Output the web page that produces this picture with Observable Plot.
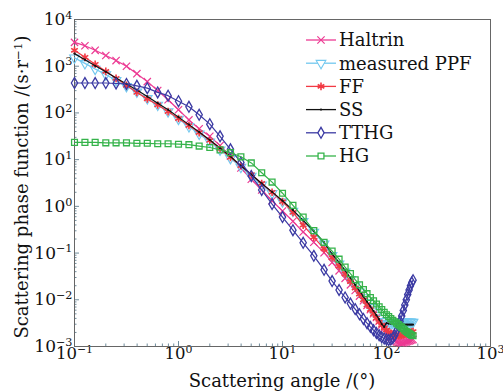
<!DOCTYPE html>
<html><head><meta charset="utf-8">
<script src="https://cdn.jsdelivr.net/npm/d3@7"></script>
<script src="https://cdn.jsdelivr.net/npm/@observablehq/plot@0.6"></script>
<style>
body{margin:0;background:#fff}
#chart{width:503px;height:391px}
</style>
</head><body><div id="chart"></div>
<script>
// Scattering angles (degrees)
const angles = [0.1,0.126,0.158,0.2,0.251,0.316,0.398,0.501,0.631,0.794,1,1.26,1.58,2,2.51,3.16,3.98,5.01,6.31,7.94,10,12.6,15.8,20,25.1,
  30,35,40,45,50,55,60,65,70,75,80,85,90,95,100,105,110,115,120,125,130,135,140,145,150,155,160,165,170,175,180];

// Phase function values (sr^-1)
const haltrin = [3240,2750,2190,1700,1320,1000,692,468,302,191,117,70.8,45.7,31.6,20.0,12.0,6.61,3.80,2.24,1.32,0.794,0.479,0.282,0.170,0.102,
  0.0631,0.0417,0.0288,0.0209,0.0158,0.0120,0.00955,0.00759,0.00617,0.00501,0.00417,0.00347,0.00288,0.00245,0.00209,0.00182,0.00158,0.00145,0.00132,0.00126,0.00123,0.00120,0.00120,0.00120,0.00123,0.00126,0.00129,0.00132,0.00135,0.00138,0.00141];
const measuredPPF = [1510,1150,871,661,501,372,282,204,148,107,74.1,51.3,35.5,24.0,16.2,10.7,6.92,4.47,2.88,1.91,1.26,0.794,0.479,0.282,0.158,
  0.0891,0.0589,0.0398,0.0275,0.0200,0.0148,0.0112,0.00871,0.00692,0.00562,0.00468,0.00398,0.00347,0.00316,0.00302,0.00302,0.00309,0.00316,0.00316,0.00324,0.00324,0.00331,0.00331,0.00331,0.00339,0.00339,0.00339,0.00339,0.00339,0.00331,0.00331];
const ff = [2190,1550,1100,776,550,389,275,200,148,107,75.9,53.7,38.0,25.7,17.0,11.2,7.41,4.79,3.09,2.00,1.26,0.741,0.398,0.219,0.123,
  0.0794,0.0525,0.0355,0.0245,0.0178,0.0132,0.0100,0.00776,0.00617,0.00501,0.00407,0.00339,0.00288,0.00251,0.00224,0.00204,0.00191,0.00182,0.00174,0.00170,0.00170,0.00170,0.00174,0.00178,0.00182,0.00186,0.00191,0.00195,0.00200,0.00204,0.00209];
const ss = [1860,1380,1020,759,562,417,309,224,162,117,81.3,56.2,38.9,26.3,17.8,11.7,7.41,4.79,3.09,2.04,1.32,0.832,0.501,0.295,0.170,
  0.0955,0.0631,0.0427,0.0295,0.0209,0.0155,0.0117,0.00912,0.00724,0.00575,0.00468,0.00380,0.00302,0.00263,0.00316,0.00309,0.00309,0.00309,0.00302,0.00302,0.00302,0.00302,0.00295,0.00295,0.00295,0.00295,0.00295,0.00295,0.00295,0.00295,0.00295];
const tthg = [437,437,437,437,427,417,380,339,275,234,178,135,91.2,57.5,31.6,16.6,8.71,4.47,2.24,1.12,0.589,0.309,0.166,0.0871,0.0437,
  0.0251,0.0162,0.0112,0.00832,0.00631,0.00490,0.00389,0.00316,0.00263,0.00224,0.00195,0.00174,0.00158,0.00148,0.00141,0.00138,0.00141,0.00151,0.00174,0.00214,0.00269,0.00347,0.00447,0.00589,0.00776,0.0100,0.0129,0.0162,0.0200,0.0234,0.0263];
const hg = [23.4,23.4,23.4,22.9,22.9,22.9,22.4,22.4,21.9,21.9,21.4,20.9,19.5,18.2,16.2,14.1,11.5,8.51,5.25,3.31,1.91,1.05,0.589,0.302,0.170,
  0.110,0.0741,0.0501,0.0363,0.0269,0.0209,0.0166,0.0135,0.0112,0.00955,0.00813,0.00708,0.00617,0.00537,0.00479,0.00437,0.00398,0.00363,0.00339,0.00316,0.00295,0.00275,0.00257,0.00240,0.00224,0.00209,0.00200,0.00191,0.00182,0.00174,0.00170];

const seriesNames = ["Haltrin","measured PPF","FF","SS","TTHG","HG"];
const seriesColors = ["#ec3a93","#72c8ef","#f23a44","#111111","#3b3aa3","#35b34a"];
const seriesSymbols = ["times","triangle","asterisk","circle","diamond","square"];

const xTickValues = [0.1,1,10,100,1000];
const xTickLabels = ["10^\u22121","10^0","10^1","10^2","10^3"];
const yTickValues = [0.001,0.01,0.1,1,10,100,1000,10000];
const yTickLabels = ["10^\u22123","10^\u22122","10^\u22121","10^0","10^1","10^2","10^3","10^4"];

const xTitle = "Scattering angle /(\u00b0)";
const yTitle = "Scattering phase function /(s\u00b7r";
const yTitleSup = "\u22121";

// ---------- build ----------
const seriesValues = [haltrin, measuredPPF, ff, ss, tthg, hg];
const markStyle = [
  {r: 3.4, strokeWidth: 1.2},
  {r: 3.6, strokeWidth: 1.1, rotate: 180},
  {r: 3.6, strokeWidth: 1.6},
  {r: 1.1, strokeWidth: 0},
  {r: 3.3, strokeWidth: 1.3},
  {r: 3.3, strokeWidth: 1.3}
];
const tables = seriesValues.map((vals, si) => vals.map((v, i) => ({angle: angles[i], value: v, series: seriesNames[si]})));

const decadesX = d3.range(-1, 3), decadesY = d3.range(-3, 4);
const xMinor = decadesX.flatMap(k => d3.range(2, 10).map(m => m * 10 ** k));
const yMinor = decadesY.flatMap(k => d3.range(2, 10).map(m => m * 10 ** k));

const marks = [
  Plot.axisX({ticks: xMinor, tickSize: -2.5, tickFormat: () => "", label: null, stroke: "#6f8c9c"}),
  Plot.axisX({ticks: xTickValues, tickSize: -5, tickFormat: () => "", label: null, stroke: "#6f8c9c"}),
  Plot.axisY({ticks: yMinor, tickSize: -2.5, tickFormat: () => "", label: null, stroke: "#6f8c9c"}),
  Plot.axisY({ticks: yTickValues, tickSize: -5, tickFormat: () => "", label: null, stroke: "#6f8c9c"}),
  Plot.axisX({ticks: xTickValues, tickSize: 0, tickPadding: 1, label: null, fontSize: 16.5,
    tickFormat: d => xTickLabels[xTickValues.indexOf(d)]}),
  Plot.axisY({ticks: yTickValues, tickSize: 0, tickPadding: 2, label: null, fontSize: 17,
    tickFormat: d => yTickLabels[yTickValues.indexOf(d)]}),
  Plot.frame({stroke: "#666"})
];
tables.forEach((t, si) => {
  marks.push(Plot.line(t, {x: "angle", y: "value", stroke: seriesColors[si], strokeWidth: 1.2}));
  const st = markStyle[si];
  const opts = {x: "angle", y: "value", symbol: seriesSymbols[si], r: st.r};
  if (si === 3) { opts.fill = seriesColors[si]; opts.stroke = "none"; }
  else { opts.fill = "none"; opts.stroke = seriesColors[si]; opts.strokeWidth = st.strokeWidth; }
  if (st.rotate) opts.rotate = st.rotate;
  marks.push(Plot.dot(t, opts));
});

const plot = Plot.plot({
  width: 503, height: 391,
  marginLeft: 74, marginRight: 13, marginTop: 19, marginBottom: 45,
  style: {fontFamily: "'DejaVu Serif', serif", color: "#111", background: "white", overflow: "visible"},
  x: {type: "log", domain: [0.1, 1000]},
  y: {type: "log", domain: [0.001, 10000]},
  marks
});

const svg = d3.select(plot);
// rich superscripts in tick labels
svg.selectAll("text").each(function () {
  const t = this.textContent;
  const m = t.match(/^10\^(.+)$/);
  if (m) {
    const s = d3.select(this);
    s.text(null);
    s.append("tspan").text("10");
    s.append("tspan").attr("dy", "-0.55em").attr("font-size", "0.66em").text(m[1]);
  }
});

const g = svg.append("g").attr("font-family", "'DejaVu Serif', serif").attr("fill", "#111");
// axis titles
g.append("text").attr("x", 282).attr("y", 387).attr("text-anchor", "middle").attr("font-size", 18).text(xTitle);
const yt = g.append("text").attr("transform", "translate(28,187) rotate(-90)").attr("text-anchor", "middle").attr("font-size", 18);
yt.append("tspan").text(yTitle);
yt.append("tspan").attr("dy", "-0.5em").attr("font-size", "0.66em").text(yTitleSup);
yt.append("tspan").attr("dy", "0.33em").text(")");

// legend
const symMap = {times: d3.symbolTimes, triangle: d3.symbolTriangle, asterisk: d3.symbolAsterisk, circle: d3.symbolCircle, diamond: d3.symbolDiamond, square: d3.symbolSquare};
seriesNames.forEach((name, i) => {
  const cy = 40 + i * 23.2;
  const row = g.append("g");
  row.append("line").attr("x1", 306).attr("x2", 336).attr("y1", cy).attr("y2", cy)
    .attr("stroke", seriesColors[i]).attr("stroke-width", 1.3);
  const st = markStyle[i];
  const path = d3.symbol(symMap[seriesSymbols[i]], Math.PI * st.r * st.r)();
  const p = row.append("path").attr("d", path)
    .attr("transform", `translate(321,${cy})` + (st.rotate ? ` rotate(${st.rotate})` : ""));
  if (i === 3) p.attr("fill", seriesColors[i]);
  else p.attr("fill", "white").attr("stroke", seriesColors[i]).attr("stroke-width", st.strokeWidth);
  row.append("text").attr("x", 339).attr("y", cy).attr("dy", "0.36em").attr("text-anchor", "start")
    .attr("font-size", 18).text(name);
});

document.getElementById("chart").appendChild(plot);
</script>
</body></html>
